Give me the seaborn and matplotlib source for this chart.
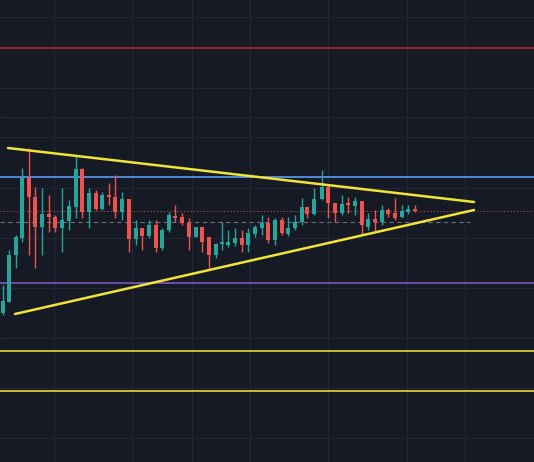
import numpy as np
import pandas as pd
import seaborn as sns
from matplotlib import pyplot as plt

# candle data, price in chart units (axis inverted)
xpos = [3, 9, 16, 22, 29, 35, 42, 49, 55, 62, 69, 76, 82, 89, 96, 102, 109, 115, 122, 129,
        136, 142, 149, 156, 162, 169, 175, 182, 189, 196, 202, 209, 216, 222, 228, 235, 242,
        248, 255, 262, 268, 275, 282, 288, 295, 302, 307, 314, 322, 328, 335, 342, 348, 355,
        362, 368, 375, 382, 388, 395, 402, 408, 415]
opens = [313, 302, 255, 238, 178, 197, 227, 214, 217, 228, 221, 207, 169, 212, 193, 209, 195, 197, 212, 199,
         239, 228, 236, 225, 248, 230, 216, 217, 223, 237, 227, 237, 255, 244, 245, 243, 238,
         245, 234, 228, 223, 240, 220, 234, 228, 222, 207, 214, 199, 187, 203, 213, 203, 206,
         201, 227, 219, 222, 210, 213, 217, 212, 209]
closes = [301, 255, 237, 178, 197, 227, 214, 217, 228, 220, 206, 169, 212, 193, 209, 195, 197, 212, 199, 239,
          228, 236, 225, 248, 230, 215, 217, 223, 237, 227, 242, 255, 244, 242, 242, 238, 245,
          233, 227, 223, 240, 220, 233, 228, 222, 207, 214, 199, 187, 203, 213, 204, 205, 201,
          225, 219, 222, 210, 214, 218, 211, 209, 211]
highs = [285, 250, 235, 168, 148, 187, 188, 195, 215, 188, 200, 155, 168, 188, 190, 192, 183, 175, 192, 199,
         220, 228, 220, 220, 228, 212, 205, 213, 218, 227, 227, 237, 243, 222, 230, 228, 230,
         228, 225, 215, 217, 218, 217, 217, 215, 198, 207, 188, 170, 185, 203, 195, 197, 197,
         201, 213, 210, 205, 208, 198, 205, 205, 205]
lows = [315, 302, 268, 242, 255, 268, 255, 232, 232, 252, 230, 218, 218, 228, 210, 210, 205, 218, 220, 252,
        245, 250, 238, 252, 250, 232, 222, 225, 250, 237, 252, 268, 258, 250, 247, 246, 252,
        252, 237, 235, 243, 245, 235, 236, 230, 225, 218, 215, 200, 218, 222, 215, 213, 215,
        235, 230, 232, 225, 217, 220, 218, 214, 212]

levels = [48, 177, 283, 351, 391]
level_colors = ['#b22833', '#5b9cf6', '#7e57c2', '#e8d93a', '#e8d93a']
upper_trend = ([8, 474], [148, 202])
lower_trend = ([15, 474], [314, 210])
grid_x = [54, 132, 192, 250, 328, 407, 465]
grid_y = [17, 88, 117, 137, 188, 238, 288, 338, 388, 438]

df = pd.DataFrame({'x': xpos, 'o': opens, 'c': closes, 'h': highs, 'l': lows})
df['up'] = df['c'] < df['o']

sns.set_style('dark')
fig, ax = plt.subplots(figsize=(5.34, 4.62), dpi=100)
fig.subplots_adjust(0, 0, 1, 1)
bg = '#161a25'
fig.patch.set_facecolor(bg)
ax.set_facecolor(bg)

for gx in grid_x:
    ax.axvline(gx, color='#232734', lw=0.8, zorder=0)
for gy in grid_y:
    ax.axhline(gy, color='#232734', lw=0.8, zorder=0)

for lv, col in zip(levels, level_colors):
    ax.axhline(lv, color=col, lw=1.2, zorder=1)
ax.axhline(211, color='#b25050', lw=0.8, ls=(0, (1, 2)), zorder=1)
ax.axhline(222, color='#6b6f7a', lw=0.8, ls=(0, (4, 3)), zorder=1, xmin=0.0, xmax=0.88)

green, red = '#26a69a', '#ef5350'
for _, r in df.iterrows():
    col = green if r['up'] else red
    ax.vlines(r['x'], r['h'], r['l'], color=col, lw=1, zorder=2)
    top, bot = min(r['o'], r['c']), max(r['o'], r['c'])
    ax.bar(r['x'], max(bot - top, 1.5), bottom=top, width=4.6, color=col,
           edgecolor=col, linewidth=0, zorder=3)

sns.lineplot(x=upper_trend[0], y=upper_trend[1], color='#f0e33a', lw=1.8, ax=ax, zorder=4)
sns.lineplot(x=lower_trend[0], y=lower_trend[1], color='#f0e33a', lw=1.8, ax=ax, zorder=4)

ax.set_xlim(0, 534)
ax.set_ylim(462, 0)
ax.set_xticks([])
ax.set_yticks([])
for s in ax.spines.values():
    s.set_visible(False)
plt.savefig('out.png', facecolor=bg)
plt.close()
